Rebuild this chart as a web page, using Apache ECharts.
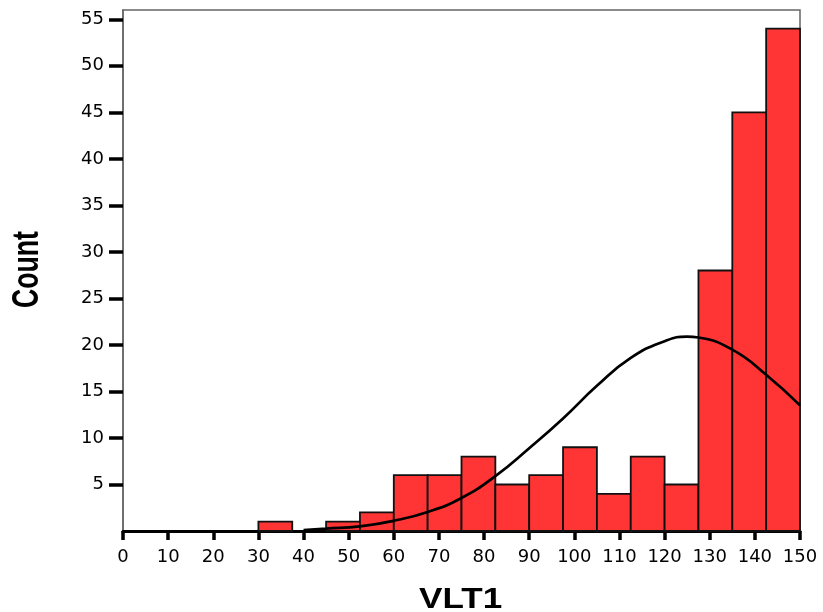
<!DOCTYPE html>
<html>
<head>
<meta charset="utf-8">
<script src="https://cdn.jsdelivr.net/npm/echarts@6/dist/echarts.min.js"></script>
<style>html,body{margin:0;padding:0;background:#fff}#c{width:823px;height:612px}</style>
</head>
<body>
<div id="c"></div>
<script>
// Histogram bins (VLT1), width 7.5
var binStarts = [30, 37.5, 45, 52.5, 60, 67.5, 75, 82.5, 90, 97.5, 105, 112.5, 120, 127.5, 135, 142.5];
var binEnds   = [37.5, 45, 52.5, 60, 67.5, 75, 82.5, 90, 97.5, 105, 112.5, 120, 127.5, 135, 142.5, 150];
var counts    = [1, 0, 1, 2, 6, 6, 8, 5, 6, 9, 4, 8, 5, 28, 45, 54];
// Normal curve
var curveX = [40, 45, 52.5, 60, 67.5, 75, 82.5, 90, 97.5, 105, 112.5, 120, 125, 127.5, 135, 142.5, 150];
var curveY = [0.1, 0.25, 0.5, 1.1, 2.05, 3.55, 5.9, 8.9, 12.1, 15.6, 18.6, 20.4, 20.9, 20.8, 19.5, 16.8, 13.5];
var yTicks = [5, 10, 15, 20, 25, 30, 35, 40, 45, 50, 55];

var barData = binStarts.map(function (s, i) { return [s, binEnds[i], counts[i]]; });
var lineData = curveX.map(function (x, i) { return [x, curveY[i]]; });

var chart = echarts.init(document.getElementById('c'), null, {renderer: 'canvas'});
chart.setOption({
  animation: false,
  grid: {left: 123, right: 23, top: 10, bottom: 81, show: true, borderColor: '#666', borderWidth: 1.5, backgroundColor: '#fff'},
  xAxis: {
    type: 'value', min: 0, max: 150, interval: 10,
    axisLine: {show: true, lineStyle: {color: '#000', width: 3}},
    axisTick: {show: true, length: 9, lineStyle: {color: '#000', width: 3.5}},
    axisLabel: {margin: 17, fontFamily: 'DejaVu Sans', fontSize: 18, color: '#000'},
    splitLine: {show: false}
  },
  yAxis: {
    type: 'value', min: 0, max: 56,
    axisLine: {show: true, lineStyle: {color: '#666', width: 1.5}},
    axisTick: {show: true, length: 14, customValues: yTicks, lineStyle: {color: '#000', width: 3.5}},
    axisLabel: {margin: 19, customValues: yTicks, fontFamily: 'DejaVu Sans', fontSize: 18, color: '#000'},
    splitLine: {show: false}
  },
  series: [{
    type: 'custom',
    data: barData,
    encode: {x: [0, 1], y: 2},
    renderItem: function (params, api) {
      var v = api.value(2);
      if (!v) return null;
      var p0 = api.coord([api.value(0), v]);
      var p1 = api.coord([api.value(1), 0]);
      return {
        type: 'rect',
        shape: {x: p0[0], y: p0[1], width: p1[0] - p0[0], height: p1[1] - p0[1]},
        style: {fill: '#FF3535', stroke: '#111', lineWidth: 1.8}
      };
    },
    z: 2
  }, {
    type: 'line',
    data: lineData,
    smooth: true,
    showSymbol: false,
    lineStyle: {color: '#000', width: 2.7},
    z: 5
  }],
  graphic: [{
    type: 'text',
    x: 419, y: 585, scaleX: 1.17,
    style: {text: 'VLT1', fontFamily: 'Liberation Sans', fontWeight: 'bold', fontSize: 30, fill: '#000', verticalAlign: 'top'}
  }, {
    type: 'text',
    x: 10, y: 308, rotation: Math.PI / 2,
    scaleX: 0.74,
    style: {text: 'Count', fontFamily: 'Liberation Sans', fontWeight: 'bold', fontSize: 36, fill: '#000', verticalAlign: 'top'}
  }]
});
</script>
</body>
</html>
